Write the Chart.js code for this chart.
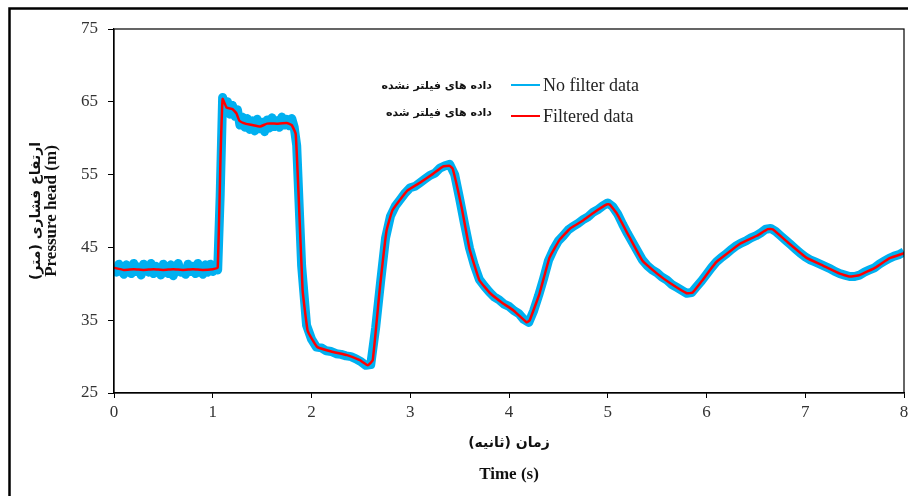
<!DOCTYPE html>
<html>
<head>
<meta charset="utf-8">
<script src="https://cdn.jsdelivr.net/npm/chart.js@4"></script>
<style>
  html, body { margin: 0; padding: 0; background: #fff; }
  #wrap { width: 908px; height: 496px; position: relative; }
</style>
</head>
<body>
<div id="wrap"><canvas id="headChart" width="908" height="496"></canvas></div>
<script>
// Filtered pressure head (red)
const filteredTime = [0, 0.1, 0.2, 0.3, 0.4, 0.5, 0.6, 0.7, 0.8, 0.9, 1.0, 1.05, 1.08, 1.10, 1.14, 1.20, 1.24, 1.27, 1.33, 1.40,
  1.48, 1.55, 1.65, 1.75, 1.80, 1.84, 1.87, 1.91, 1.96, 2.01, 2.06, 2.20, 2.36, 2.49, 2.57, 2.62, 2.69, 2.76, 2.82, 2.97,
  3.10, 3.23, 3.33, 3.40, 3.43, 3.52, 3.60, 3.70, 3.81, 3.94, 4.04, 4.18, 4.21, 4.31, 4.41, 4.51, 4.62, 4.75, 4.85, 4.99,
  5.02, 5.09, 5.22, 5.35, 5.50, 5.63, 5.80, 5.86, 5.96, 6.03, 6.10, 6.34, 6.51, 6.62, 6.67, 6.84, 7.01, 7.18, 7.35, 7.45,
  7.55, 7.72, 7.85, 8.00];
const filteredHead = [42.2, 41.9, 42.0, 41.9, 42.0, 41.9, 42.0, 41.9, 42.0, 41.9, 42.0, 42.2, 58.0, 65.4, 64.2, 64.0, 63.4, 62.4, 62.0, 61.8,
  61.6, 62.0, 62.0, 62.1, 61.8, 60.6, 52.0, 39.1, 33.6, 32.3, 31.3, 30.7, 30.2, 29.5, 28.8, 29.5, 39.1, 47.3, 50.1, 52.8,
  53.9, 55.1, 56.1, 56.2, 55.8, 50.5, 44.8, 40.5, 38.7, 37.3, 36.4, 34.7, 35.0, 38.7, 43.6, 46.0, 47.6, 48.7, 49.7, 50.9,
  50.9, 49.7, 46.4, 43.2, 41.4, 40.1, 38.7, 38.8, 40.5, 41.8, 43.0, 45.5, 46.6, 47.5, 47.5, 45.5, 43.6, 42.5, 41.4, 41.0,
  41.2, 42.3, 43.5, 44.2];

// Raw (no filter) pressure head (blue): 0.025 s steps up to 1.85 s, then 0.05 s
const rawTime = [0.000, 0.025, 0.050, 0.075, 0.100, 0.125, 0.150, 0.175, 0.200, 0.225, 0.250, 0.275, 0.300, 0.325, 0.350, 0.375,
  0.400, 0.425, 0.450, 0.475, 0.500, 0.525, 0.550, 0.575, 0.600, 0.625, 0.650, 0.675, 0.700, 0.725, 0.750, 0.775,
  0.800, 0.825, 0.850, 0.875, 0.900, 0.925, 0.950, 0.975, 1.000, 1.025, 1.050, 1.075, 1.100, 1.125, 1.150, 1.175,
  1.200, 1.225, 1.250, 1.275, 1.300, 1.325, 1.350, 1.375, 1.400, 1.425, 1.450, 1.475, 1.500, 1.525, 1.550, 1.575,
  1.600, 1.625, 1.650, 1.675, 1.700, 1.725, 1.750, 1.775, 1.800, 1.825, 1.850,
  1.90, 1.95, 2.00, 2.05, 2.10, 2.15, 2.20, 2.25, 2.30, 2.35, 2.40, 2.45, 2.50, 2.55, 2.60, 2.65, 2.70, 2.75, 2.80, 2.85,
  2.90, 2.95, 3.00, 3.05, 3.10, 3.15, 3.20, 3.25, 3.30, 3.35, 3.40, 3.45, 3.50, 3.55, 3.60, 3.65, 3.70, 3.75, 3.80, 3.85,
  3.90, 3.95, 4.00, 4.05, 4.10, 4.15, 4.20, 4.25, 4.30, 4.35, 4.40, 4.45, 4.50, 4.55, 4.60, 4.65, 4.70, 4.75, 4.80, 4.85,
  4.90, 4.95, 5.00, 5.05, 5.10, 5.15, 5.20, 5.25, 5.30, 5.35, 5.40, 5.45, 5.50, 5.55, 5.60, 5.65, 5.70, 5.75, 5.80, 5.85,
  5.90, 5.95, 6.00, 6.05, 6.10, 6.15, 6.20, 6.25, 6.30, 6.35, 6.40, 6.45, 6.50, 6.55, 6.60, 6.65, 6.70, 6.75, 6.80, 6.85,
  6.90, 6.95, 7.00, 7.05, 7.10, 7.15, 7.20, 7.25, 7.30, 7.35, 7.40, 7.45, 7.50, 7.55, 7.60, 7.65, 7.70, 7.75, 7.80, 7.85,
  7.90, 7.95, 8.00];
const rawHead = [42.4, 41.6, 42.7, 41.9, 41.3, 42.6, 42.1, 41.4, 42.8, 41.7, 42.3, 41.2, 42.7, 42.0, 41.6, 42.8,
  41.4, 42.4, 41.9, 41.2, 42.7, 42.1, 41.4, 42.6, 41.1, 42.3, 42.8, 41.6, 42.0, 41.3, 42.7, 41.7,
  42.4, 41.4, 42.8, 41.9, 41.3, 42.6, 41.6, 42.7, 41.7, 42.4, 41.9, 52.0, 65.6, 64.0, 65.0, 63.3,
  64.5, 63.0, 63.9, 61.8, 62.9, 61.5, 62.7, 61.2, 62.4, 61.0, 62.6, 61.3, 62.2, 60.9, 62.5, 61.4,
  62.8, 61.6, 62.4, 61.5, 62.9, 61.8, 62.6, 61.7, 62.7, 61.5, 59.0,
  42.5, 34.3, 32.4, 31.3, 31.2, 30.8, 30.7, 30.4, 30.3, 30.1, 30.0, 29.7, 29.3, 28.8, 28.9, 34.0, 40.3, 46.3, 49.3, 50.7,
  51.6, 52.5, 53.2, 53.4, 53.9, 54.4, 54.9, 55.2, 55.9, 56.2, 56.4, 55.0, 51.7, 48.2, 44.9, 42.5, 40.6, 39.7, 38.9, 38.2,
  37.8, 37.2, 36.9, 36.3, 35.9, 35.1, 34.7, 36.3, 38.4, 40.7, 43.2, 44.7, 45.9, 46.6, 47.4, 47.9, 48.3, 48.8, 49.2, 49.8,
  50.2, 50.7, 51.1, 50.6, 49.6, 48.2, 46.9, 45.7, 44.5, 43.3, 42.5, 41.9, 41.5, 40.9, 40.5, 39.9, 39.5, 39.1, 38.7, 38.8,
  39.6, 40.4, 41.3, 42.2, 43.0, 43.6, 44.1, 44.7, 45.2, 45.6, 45.9, 46.3, 46.6, 47.0, 47.5, 47.6, 47.2, 46.6, 46.0, 45.4,
  44.8, 44.2, 43.7, 43.3, 43.0, 42.7, 42.4, 42.1, 41.7, 41.4, 41.2, 41.0, 41.0, 41.2, 41.6, 41.9, 42.2, 42.7, 43.1, 43.5,
  43.8, 44.0, 44.4];

const xTicks = [0, 1, 2, 3, 4, 5, 6, 7, 8];
const yTicks = [25, 35, 45, 55, 65, 75];
const seriesNames = ['No filter data', 'Filtered data'];
const seriesNamesFa = ['داده های فیلتر نشده', 'داده های فیلتر شده'];
const xTitle = ['زمان (ثانیه)', 'Time (s)'];
const yTitle = ['ارتفاع فشاری (متر)', 'Pressure head (m)'];

const BLUE = '#00b0f0';
const RED = '#ff0000';
const SERIF = "'Liberation Serif', 'Times New Roman', serif";
const FA = "'DejaVu Sans', sans-serif";

function toPoints(xs, ys) {
    return xs.map((x, i) => ({ x: x, y: ys[i] }));
}

// Frame, plot box, axis titles and legend
const decorPlugin = {
    id: 'decor',
    afterDraw(chart) {
        const ctx = chart.ctx;
        const a = chart.chartArea;
        ctx.save();

        // outer frame of the figure
        ctx.strokeStyle = '#000';
        ctx.lineWidth = 2.5;
        ctx.strokeRect(9.5, 8.5, 960, 560);

        // box around the plot
        ctx.lineWidth = 1.2;
        ctx.strokeRect(a.left, a.top, a.right - a.left, a.bottom - a.top);

        const cx = (a.left + a.right) / 2;
        const cy = (a.top + a.bottom) / 2;

        // x axis title
        ctx.fillStyle = '#111';
        ctx.textAlign = 'center';
        ctx.textBaseline = 'middle';
        ctx.direction = 'rtl';
        ctx.font = 'bold 14px ' + FA;
        ctx.fillText(xTitle[0], cx, 443);
        ctx.direction = 'ltr';
        ctx.font = 'bold 17px ' + SERIF;
        ctx.fillText(xTitle[1], cx, 475);

        // y axis title (rotated)
        ctx.save();
        ctx.translate(36, cy);
        ctx.rotate(-Math.PI / 2);
        ctx.direction = 'rtl';
        ctx.font = 'bold 14px ' + FA;
        ctx.fillText(yTitle[0], 0, 0);
        ctx.restore();
        ctx.save();
        ctx.translate(52, cy);
        ctx.rotate(-Math.PI / 2);
        ctx.direction = 'ltr';
        ctx.font = 'bold 17px ' + SERIF;
        ctx.fillText(yTitle[1], 0, 0);
        ctx.restore();

        // legend
        const rows = [85, 116];
        const faRows = [86, 113];
        const colors = [BLUE, RED];
        rows.forEach((y, i) => {
            ctx.strokeStyle = colors[i];
            ctx.lineWidth = 2;
            ctx.beginPath();
            ctx.moveTo(511, y);
            ctx.lineTo(540, y);
            ctx.stroke();
            ctx.fillStyle = '#222';
            ctx.textAlign = 'left';
            ctx.direction = 'ltr';
            ctx.font = '18px ' + SERIF;
            ctx.fillText(seriesNames[i], 543, y + 1);
            ctx.textAlign = 'right';
            ctx.direction = 'rtl';
            ctx.font = 'bold 11px ' + FA;
            ctx.fillStyle = '#111';
            ctx.fillText(seriesNamesFa[i], 492, faRows[i]);
        });
        ctx.restore();
    }
};

const ctx = document.getElementById('headChart').getContext('2d');
new Chart(ctx, {
    type: 'line',
    data: {
        datasets: [{
            label: seriesNames[0],
            data: toPoints(rawTime, rawHead),
            borderColor: BLUE,
            borderWidth: 9,
            pointRadius: 0,
            tension: 0,
            borderJoinStyle: 'round',
            order: 2
        }, {
            label: seriesNames[1],
            data: toPoints(filteredTime, filteredHead),
            borderColor: RED,
            borderWidth: 2.5,
            pointRadius: 0,
            tension: 0.1,
            order: 1
        }]
    },
    options: {
        responsive: false,
        animation: false,
        devicePixelRatio: 1,
        layout: { padding: { top: 29, right: 0, left: 0, bottom: 0 } },
        plugins: {
            legend: { display: false },
            tooltip: { enabled: false }
        },
        scales: {
            x: {
                type: 'linear',
                min: 0,
                max: 8,
                afterBuildTicks: (scale) => { scale.ticks = xTicks.map(v => ({ value: v })); },
                afterFit: (scale) => {
                    scale.height = 103;
                    scale.paddingRight = 4;
                    scale.paddingLeft = 0;
                },
                grid: { drawOnChartArea: false, drawTicks: true, tickLength: 5, color: '#000' },
                border: { display: true, color: '#000', width: 1.2 },
                ticks: {
                    color: '#333',
                    font: { family: SERIF, size: 17 },
                    padding: 4,
                    maxRotation: 0
                }
            },
            y: {
                type: 'linear',
                min: 25,
                max: 75,
                afterBuildTicks: (scale) => { scale.ticks = yTicks.map(v => ({ value: v })); },
                afterFit: (scale) => { scale.width = 114; },
                grid: { drawOnChartArea: false, drawTicks: true, tickLength: 6, color: '#000' },
                border: { display: true, color: '#000', width: 1.2 },
                ticks: {
                    color: '#333',
                    font: { family: SERIF, size: 17 },
                    padding: 10
                }
            }
        }
    },
    plugins: [decorPlugin]
});
</script>
</body>
</html>
